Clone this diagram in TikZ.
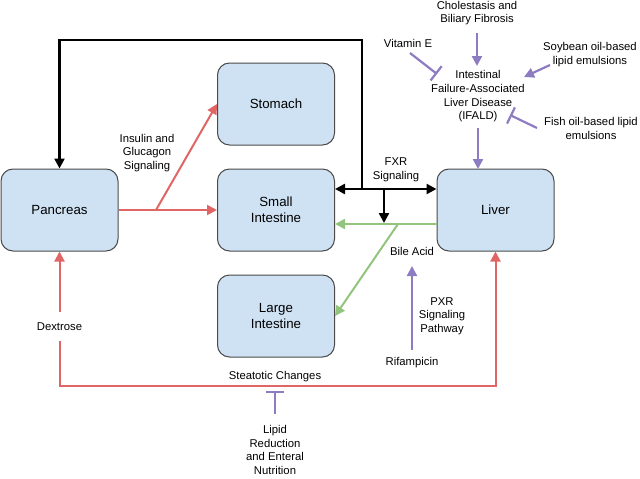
\documentclass[tikz,border=0pt]{standalone}
\usepackage{fontspec}
\setmainfont{Liberation Sans}
\usetikzlibrary{arrows.meta}
\definecolor{cred}{HTML}{E06666}
\definecolor{cgreen}{HTML}{93C47D}
\definecolor{cpurple}{HTML}{8E7CC3}
\definecolor{cfill}{HTML}{CFE2F3}
\definecolor{cedge}{HTML}{4A4A4A}
\tikzset{
  organ/.style={draw=cedge, fill=cfill, line width=1pt, rounded corners=12pt,
    minimum width=117pt, minimum height=82pt, align=center, inner sep=0pt,
    font=\fontsize{13.3}{16}\selectfont},
  lbl/.style={align=center, inner sep=0pt, font=\fontsize{11.3}{13.7}\selectfont},
  tip/.style={-{Triangle[length=10pt,width=10pt]}},
  redline/.style={draw=cred, line width=2pt},
  grnline/.style={draw=cgreen, line width=2pt},
  purline/.style={draw=cpurple, line width=2.2pt},
  blkline/.style={draw=black, line width=2.4pt},
  inhib/.style={-{Bar[width=18pt,line width=2.2pt]}},
}
\begin{document}
\begin{tikzpicture}[x=1pt,y=-1pt]
\useasboundingbox (0,0) rectangle (640,479);
% boxes
\node[organ] (pan) at (59.5,210) {Pancreas};
\node[organ] (sto) at (276,104) {Stomach};
\node[organ] (si) at (276,210) {Small\\Intestine};
\node[organ] (li) at (276,316) {Large\\Intestine};
\node[organ] (liv) at (495.5,210) {Liver};
% labels
\node[lbl] (ins) at (147,153) {Insulin and\\Glucagon\\Signaling};
\node[lbl] (fxr) at (396,170) {FXR\\Signaling};
\node[lbl] (bile) at (412,251) {Bile Acid};
\node[lbl] (pxr) at (442,316) {PXR\\Signaling\\Pathway};
\node[lbl] (rif) at (412,363) {Rifampicin};
\node[lbl] (dex) at (59.5,327) {Dextrose};
\node[lbl] (ste) at (275,377) {Steatotic Changes};
\node[lbl] (lip) at (275,450) {Lipid\\Reduction\\and Enteral\\Nutrition};
\node[lbl] (cho) at (477,13) {Cholestasis and\\Biliary Fibrosis};
\node[lbl] (ifa) at (478,96.5) {Intestinal\\Failure-Associated\\Liver Disease\\(IFALD)};
\node[lbl] (vit) at (408,43) {Vitamin E};
\node[lbl] (soy) at (590,54.5) {Soybean oil-based\\lipid emulsions};
\node[lbl] (fish) at (591,128.5) {Fish oil-based lipid\\emulsions};
% coordinates
\coordinate (top) at (362,40);
\coordinate (j1) at (362,189);
\coordinate (j2) at (384,189);
\coordinate (g1) at (384,223);
\coordinate (gsplit) at (398,224);
\coordinate (branch) at (156,210);
\coordinate (bl) at (59.5,386);
\coordinate (dexTop) at (59.5,312);
\coordinate (dexBot) at (59.5,341);
% black FXR connectors
\draw[blkline, tip] (j1) -- (top) -| (pan.north);
\draw[blkline, {Triangle[length=10pt,width=10pt]}-{Triangle[length=10pt,width=10pt]}] (si.east |- j1) -- (liv.west |- j1);
\draw[blkline, tip] (j2) -- (g1);
% green bile acid
\draw[grnline, tip] (liv.west |- gsplit) -- (si.east |- gsplit);
\draw[grnline, tip] (gsplit) -- (li.east);
% red
\draw[redline, tip] (pan.east) -- (si.west);
\draw[redline, tip] (branch) -- (sto.west);
\draw[redline, tip] (dexTop) -- (pan.south);
\draw[redline, tip] (dexBot) -- (bl) -| (liv.south);
% purple
\draw[purline, tip] (412,350) -- (412,266);
\draw[purline, inhib] (275,414) -- (275,391);
\draw[purline, tip] (477,33) -- (477,66);
\draw[purline, tip] (478,128) -- (478 ,169);
\draw[purline, inhib] (410,53) -- (437,74);
\draw[purline, tip] (550,65) -- (524,77);
\draw[purline, inhib] (537,128) -- (510,115);
\end{tikzpicture}
\end{document}
